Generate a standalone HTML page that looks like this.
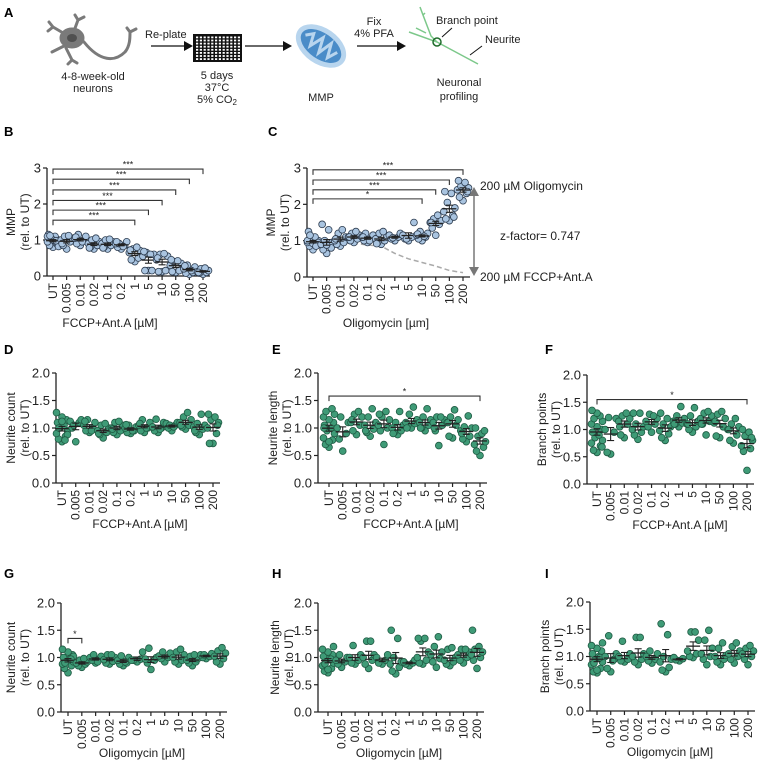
<!DOCTYPE html>
<html><head><meta charset="utf-8">
<style>
html,body{margin:0;padding:0;background:#fff;}
svg{display:block;font-family:"Liberation Sans",Arial,sans-serif;}
</style></head>
<body>
<svg id="fig" width="758" height="760" viewBox="0 0 758 760" xmlns="http://www.w3.org/2000/svg">
<g id="schematic">
  <text x="4" y="17" font-size="13" font-weight="bold">A</text>
  <g stroke="#7a7a7a" stroke-width="3" fill="none" stroke-linecap="round">
    <path d="M70 37 L53 27 M53 27 L49 22 M53 27 L48 31"/>
    <path d="M74 31 L78 20 M78 20 L75 15 M78 20 L84 17"/>
    <path d="M66 45 L52 52 M66 48 L72 60 M72 60 L68 64 M72 60 L77 63"/>
    <path d="M84 42 C100 62 115 62 125 52 C130 46 130 38 130 32 M130 32 L127 28 M130 32 L136 29"/>
    <ellipse cx="72" cy="38" rx="11" ry="9" fill="#7a7a7a"/>
    <ellipse cx="72" cy="38" rx="5" ry="4" fill="#505050" stroke="none"/>
  </g>
  <text x="93" y="80" font-size="11" text-anchor="middle" fill="#222">4-8-week-old</text>
  <text x="93" y="92" font-size="11" text-anchor="middle" fill="#222">neurons</text>
  <text x="145" y="38" font-size="11" fill="#222">Re-plate</text>
  <line x1="151" y1="46" x2="184" y2="46" stroke="#111" stroke-width="1.3"/>
  <polygon points="184,41 193,46 184,51" fill="#111"/>
  <rect x="193" y="34" width="49" height="28" fill="#111"/>
  <g id="plategrid"></g>
  <text x="217" y="79" font-size="11" text-anchor="middle" fill="#222">5 days</text>
  <text x="217" y="91" font-size="11" text-anchor="middle" fill="#222">37°C</text>
  <text x="217" y="103" font-size="11" text-anchor="middle" fill="#222">5% CO<tspan font-size="8" dy="2">2</tspan></text>
  <line x1="245" y1="46" x2="283" y2="46" stroke="#111" stroke-width="1.3"/>
  <polygon points="283,41 292,46 283,51" fill="#111"/>
  <g transform="rotate(35 321 46)">
    <ellipse cx="321" cy="46" rx="28" ry="18" fill="#b8d5ee"/>
    <ellipse cx="321" cy="46" rx="23" ry="13" fill="#4a8cc8"/>
    <path d="M302 46 L308 40 L312 52 L318 38 L323 53 L328 38 L333 52 L338 42" stroke="#b8d5ee" stroke-width="3" fill="none"/>
  </g>
  <text x="321" y="101" font-size="11" text-anchor="middle" fill="#222">MMP</text>
  <text x="374" y="25" font-size="11" text-anchor="middle" fill="#222">Fix</text>
  <text x="374" y="37" font-size="11" text-anchor="middle" fill="#222">4% PFA</text>
  <line x1="357" y1="46" x2="397" y2="46" stroke="#111" stroke-width="1.3"/>
  <polygon points="397,41 406,46 397,51" fill="#111"/>
  <g stroke="#7cc88a" stroke-width="1.5" fill="none">
    <path d="M409 32 L437 42 L478 64"/>
    <path d="M420 7 L423 15 L431 36 L437 42"/>
    <path d="M423 15 L425 13"/>
    <path d="M416 28 L426 33"/>
    <circle cx="437" cy="42" r="4" stroke="#1e6b2a" stroke-width="1.5"/>
  </g>
  <text x="436" y="24" font-size="11" fill="#222">Branch point</text>
  <line x1="452" y1="28" x2="442" y2="37" stroke="#111" stroke-width="1"/>
  <text x="485" y="43" font-size="11" fill="#222">Neurite</text>
  <line x1="482" y1="46" x2="470" y2="55" stroke="#111" stroke-width="1"/>
  <text x="459" y="86" font-size="11" text-anchor="middle" fill="#222">Neuronal</text>
  <text x="459" y="100" font-size="11" text-anchor="middle" fill="#222">profiling</text>
</g>
<g id="charts"></g>
</svg>
<script>
const categories = ["UT","0.005","0.01","0.02","0.1","0.2","1","5","10","50","100","200"];
const bValues = [
 [0.8,0.85,0.9,0.95,1.0,1.05,1.1,1.15,0.9,1.0,1.1,0.82,1.12,0.98],
 [0.75,0.85,0.95,1.0,1.05,1.1,1.12,0.9],
 [0.85,0.9,1.0,1.05,1.1,1.15,0.95,1.08],
 [0.75,0.8,0.85,0.9,0.95,1.0,1.05,0.78],
 [0.75,0.8,0.85,0.9,0.95,1.0,1.02,0.78],
 [0.75,0.8,0.85,0.9,0.95,0.9,0.82,0.95],
 [0.4,0.45,0.5,0.65,0.7,0.75,0.8,0.72],
 [0.15,0.15,0.15,0.55,0.6,0.65,0.6,0.68],
 [0.12,0.12,0.15,0.45,0.55,0.6,0.62,0.5],
 [0.1,0.12,0.15,0.3,0.35,0.4,0.42,0.45],
 [0.05,0.08,0.1,0.2,0.25,0.3,0.15,0.28],
 [0.05,0.08,0.1,0.12,0.15,0.2,0.22,0.1]];
const cValues = [
 [0.75,0.85,0.9,0.95,1.0,1.05,1.1,1.25,0.88,0.92,1.0,0.95,1.15,0.85],
 [0.65,0.75,0.85,0.9,0.95,1.0,1.3,1.45,0.8,0.88],
 [0.85,0.9,0.95,1.0,1.1,1.2,1.3,1.05],
 [0.95,1.0,1.05,1.1,1.15,1.2,1.25,1.1],
 [0.95,1.0,1.05,1.1,1.15,1.2,1.0,1.1],
 [0.9,0.95,1.0,1.05,1.1,1.2,1.25,0.92],
 [1.0,1.05,1.1,1.15,1.2,1.08],
 [1.0,1.05,1.1,1.15,1.5,1.05],
 [1.0,1.05,1.1,1.15,1.2,1.25,1.12,1.18],
 [1.15,1.35,1.45,1.5,1.55,1.6,1.7,1.5],
 [1.55,1.6,1.7,1.8,1.9,2.05,2.3,2.35,1.65],
 [2.1,2.2,2.3,2.4,2.45,2.5,2.6,2.65,2.35]];
const cDashed = [0.98,0.97,0.95,0.93,0.88,0.85,0.65,0.5,0.4,0.3,0.18,0.12];
const dValues = [
 [0.75,0.8,0.85,0.9,0.95,1.0,1.05,1.1,1.15,1.2,1.28,0.88,1.0,0.78,1.12],
 [0.75,1.0,1.1,1.12,1.15,1.05],
 [0.92,0.95,1.0,1.05,1.1,1.15,0.95,1.12],
 [0.82,0.88,0.92,0.95,1.0,1.05,1.08,0.9],
 [0.88,0.92,0.95,1.0,1.05,1.1,1.12,0.98],
 [0.9,0.92,0.95,1.0,1.02,1.05,0.95,1.06],
 [0.92,0.95,1.0,1.05,1.1,1.15,1.0,1.08],
 [0.92,0.95,1.0,1.02,1.1,1.16,0.98],
 [0.95,1.0,1.05,1.08,1.1,1.05,1.02],
 [0.98,1.02,1.05,1.1,1.15,1.2,1.28,1.05],
 [0.88,0.92,0.98,1.02,1.05,1.08,1.25,0.95],
 [0.72,0.72,0.9,1.0,1.1,1.15,1.2,1.25,1.05]];
const eValues = [
 [0.65,0.7,0.78,0.82,0.9,0.95,1.0,1.05,1.1,1.15,1.2,1.25,1.3,1.35,0.75,1.0],
 [0.58,0.8,0.9,1.0,1.1,1.2],
 [0.88,0.95,1.05,1.1,1.2,1.25,1.3,1.15],
 [0.85,0.92,0.98,1.05,1.1,1.2,1.35,0.95],
 [0.7,0.95,1.0,1.05,1.15,1.2,1.3,1.25],
 [0.88,0.92,0.95,1.0,1.05,1.1,1.3,0.9],
 [1.0,1.05,1.08,1.1,1.15,1.25,1.38,1.0],
 [0.95,1.0,1.05,1.1,1.15,1.2,1.35,1.0],
 [0.68,0.95,1.05,1.1,1.15,1.2,1.2,1.0],
 [0.82,0.85,1.05,1.1,1.15,1.2,1.33,1.1],
 [0.75,0.8,0.85,0.95,1.0,1.02,1.22,0.9],
 [0.5,0.58,0.65,0.7,0.75,0.85,0.9,1.0,0.95]];
const fValues = [
 [0.58,0.62,0.7,0.75,0.8,0.85,0.9,0.95,1.0,1.05,1.1,1.15,1.2,1.25,1.3,1.35,0.68],
 [0.55,0.58,0.95,1.0,1.2,1.22],
 [0.85,0.9,1.1,1.15,1.2,1.25,1.3,1.05],
 [0.82,0.9,0.95,1.0,1.05,1.1,1.3,1.3],
 [0.95,1.05,1.1,1.15,1.2,1.28,1.25],
 [0.8,0.85,0.92,0.98,1.05,1.1,1.2,1.3],
 [1.05,1.1,1.12,1.15,1.2,1.25,1.42,1.1],
 [0.95,1.0,1.05,1.1,1.15,1.25,1.4,1.1],
 [0.9,1.1,1.15,1.2,1.25,1.3,1.33,1.1],
 [0.85,0.88,1.05,1.12,1.2,1.28,1.33,1.15],
 [0.75,0.8,0.9,1.0,1.05,1.1,1.2,1.0],
 [0.25,0.6,0.65,0.7,0.8,0.88,0.95,1.0,0.85]];
const gValues = [
 [0.72,0.8,0.85,0.88,0.92,0.95,0.98,1.0,1.05,1.1,1.15,1.02,0.9,0.97],
 [0.82,0.85,0.88,0.9,0.92,0.95,0.98],
 [0.9,0.95,0.97,1.0,1.02,1.05,0.92],
 [0.88,0.9,0.93,0.96,1.0,1.05,1.05],
 [0.85,0.88,0.9,0.95,1.0,1.03,0.92],
 [0.92,0.95,0.97,0.95,1.1],
 [0.78,0.9,0.95,0.97,1.0,1.17],
 [0.92,0.98,1.0,1.03,1.08,1.1],
 [0.88,0.92,0.95,1.0,1.05,1.1,1.15],
 [0.85,0.9,0.92,0.95,0.98,1.02,1.05],
 [0.98,1.0,1.02,1.05,1.07,1.05],
 [0.88,0.92,0.98,1.02,1.08,1.12,1.18]];
const hValues = [
 [0.72,0.75,0.8,0.85,0.9,0.95,1.0,1.02,1.05,1.1,1.15,1.2,0.88,0.97,0.78],
 [0.82,0.88,0.92,0.95,1.0,1.05],
 [0.88,0.9,0.95,1.0,1.05,1.22],
 [0.8,0.88,0.95,1.0,1.05,1.3,1.3],
 [0.88,0.9,0.95,1.0,1.05],
 [0.7,0.75,0.82,0.88,0.92,1.0,1.35,1.5],
 [0.85,0.88,0.9,0.92,0.95],
 [0.88,0.9,0.95,1.0,1.1,1.3,1.35,1.35],
 [0.82,0.92,0.98,1.05,1.1,1.2,1.38],
 [0.85,0.88,0.92,0.95,1.0,1.15,1.18],
 [0.9,0.95,1.0,1.05,1.1,1.15,1.15],
 [0.8,0.95,1.0,1.05,1.1,1.15,1.2,1.5]];
const iValues = [
 [0.7,0.72,0.78,0.85,0.9,0.95,1.0,1.05,1.1,1.15,1.2,1.25,0.88,0.98,0.75],
 [0.72,0.78,0.95,1.0,1.05,1.38,0.92],
 [0.9,0.92,0.95,1.0,1.05,1.28],
 [0.85,0.9,0.95,1.0,1.05,1.35,1.35],
 [0.88,0.92,0.95,1.0,1.05,1.1],
 [0.72,0.75,0.8,0.9,0.95,1.0,1.4,1.6],
 [0.92,0.94,0.96,0.98],
 [0.98,1.0,1.05,1.1,1.3,1.45,1.45],
 [0.85,0.95,1.0,1.05,1.15,1.3,1.48],
 [0.85,0.9,0.95,1.0,1.02,1.15,1.25],
 [0.88,0.95,1.0,1.05,1.1,1.18,1.25],
 [0.85,0.95,1.0,1.05,1.1,1.15,1.2]];
const mmpTicks = [0,1,2,3];
const morphTicks = [0,0.5,1,1.5,2];
const bBrackets = [[6,1.55,"***"],[7,1.83,"***"],[8,2.1,"***"],[9,2.39,"***"],[10,2.69,"***"],[11,2.97,"***"]];
const cBrackets = [[8,2.15,"*"],[9,2.4,"***"],[10,2.67,"***"],[11,2.95,"***"]];
const eBrackets = [[11,1.58,"*"]];
const fBrackets = [[11,1.55,"*"]];
const gBrackets = [[1,1.35,"*"]];

const NS = "http://www.w3.org/2000/svg";
const root = document.getElementById("charts");
function mk(tag, attrs, parent, text){
  const e = document.createElementNS(NS, tag);
  for (const k in attrs) e.setAttribute(k, attrs[k]);
  if (text !== undefined) e.textContent = text;
  (parent||root).appendChild(e);
  return e;
}
const pg = document.getElementById("plategrid");
for (let r=0;r<8;r++) for (let c=0;c<12;c++){
  mk("rect",{x:196+c*3.8,y:36.5+r*3.1,width:2.2,height:1.8,fill:"#fff"},pg);
}

function panel(cfg){
  const g = mk("g",{});
  
  
  const ys = v => cfg.y0 - (v - 0) * (cfg.y0 - cfg.yTop) / cfg.ymax;
  const n = categories.length;
  const xs = i => cfg.x1 + i * (cfg.x2 - cfg.x1) / (n - 1);
  const lbl = mk("text",{x:cfg.lx,y:cfg.ly,"font-size":13,"font-weight":"bold"},g,cfg.label);
  
  
  const ya = mk("line",{x1:cfg.ax,y1:cfg.yTop,x2:cfg.ax,y2:cfg.y0,stroke:"#222","stroke-width":1.3},g);
  
  
  cfg.ticks.forEach(t=>{
    const y = ys(t);
    mk("line",{x1:cfg.ax-4,y1:y,x2:cfg.ax,y2:y,stroke:"#222","stroke-width":1.2},g);
    const tl = mk("text",{x:cfg.ax-6,y:y+4.5,"font-size":13,"text-anchor":"end",fill:"#222"},g,cfg.fmt(t));
    
    
  });
  const xa = mk("line",{x1:cfg.ax,y1:cfg.y0,x2:cfg.x2+7,y2:cfg.y0,stroke:"#222","stroke-width":1.3},g);
  
  
  categories.forEach((c,i)=>{
    const x = xs(i);
    mk("line",{x1:x,y1:cfg.y0,x2:x,y2:cfg.y0+4,stroke:"#222","stroke-width":1.2},g);
    const t = mk("text",{x:x+4,y:cfg.y0+7,"font-size":12,"text-anchor":"end",fill:"#222",transform:`rotate(-90 ${x+4} ${cfg.y0+7})`},g,c);
    
    
  });
  const xt = mk("text",{x:cfg.xtx,y:cfg.xty,"font-size":12,"text-anchor":"middle",fill:"#222"},g,cfg.xtitle);
  
  
  const ymid = (cfg.yTop+cfg.y0)/2;
  const yt = mk("text",{x:0,y:0,"font-size":12,"text-anchor":"middle",fill:"#222",transform:`translate(${cfg.ytx} ${ymid}) rotate(-90)`},g);
  
  
  mk("tspan",{x:0,dy:0},yt,cfg.ytitle[0]);
  mk("tspan",{x:0,dy:14},yt,cfg.ytitle[1]);
  if (cfg.dashed){
    const pts = cfg.dashed.map((v,i)=>`${xs(i)},${ys(v)}`).join(" ");
    const dl = mk("polyline",{points:pts,fill:"none",stroke:"#aaa","stroke-width":1.5,"stroke-dasharray":"5 3"},g);
    
    
  }
  cfg.data.forEach((arr,i)=>{
    const cx = xs(i);
    const offs = [0,-3.5,3.5,-5.5,5.5,-2,2,-4.5,4.5,0,-5.5,5.5,-3,3,0,-5,5];
    arr.forEach((v,j)=>{
      const p = mk("circle",{cx:cx+offs[j%offs.length],cy:ys(v),r:3.4,fill:cfg.fill,stroke:cfg.stroke,"stroke-width":0.8},g);
      
      
    });
    const m = arr.reduce((a,b)=>a+b,0)/arr.length;
    const sd = Math.sqrt(arr.reduce((a,b)=>a+(b-m)*(b-m),0)/(arr.length-1));
    const se = sd/Math.sqrt(arr.length);
    const ml = mk("line",{x1:cx-7,y1:ys(m),x2:cx+7,y2:ys(m),stroke:"#222","stroke-width":1.3},g);
    
    
    mk("line",{x1:cx,y1:ys(m-se),x2:cx,y2:ys(m+se),stroke:"#222","stroke-width":1.1},g);
    mk("line",{x1:cx-3.5,y1:ys(m-se),x2:cx+3.5,y2:ys(m-se),stroke:"#222","stroke-width":1.1},g);
    mk("line",{x1:cx-3.5,y1:ys(m+se),x2:cx+3.5,y2:ys(m+se),stroke:"#222","stroke-width":1.1},g);
  });
  (cfg.brackets||[]).forEach(b=>{
    const xa0 = xs(0), xb = xs(b[0]), y = ys(b[1]);
    const br = mk("path",{d:`M${xa0} ${y+5} L${xa0} ${y} L${xb} ${y} L${xb} ${y+5}`,fill:"none",stroke:"#333","stroke-width":1.1},g);
    
    
    const st = mk("text",{x:(xa0+xb)/2,y:y-1.5,"font-size":9,"text-anchor":"middle",fill:"#222"},g,b[2]);
    
    
  });
  return {g,xs,ys};
}
const blue = {fill:"#a9c4e0",stroke:"#2e3d50"};
const green = {fill:"#3f9b77",stroke:"#1f5a43"};
const f1 = t=>String(t), f2 = t=>t.toFixed(1);
panel(Object.assign({name:"panel-b-chart",label:"B",lx:4,ly:136,ax:47,x1:53,x2:203,y0:276,yTop:168,ymax:3,ticks:mmpTicks,fmt:f1,data:bValues,brackets:bBrackets,xtitle:"FCCP+Ant.A [µM]",xtx:110,xty:327,ytitle:["MMP","(rel. to UT)"],ytx:15},blue));
const pc = panel(Object.assign({name:"panel-c-chart",label:"C",lx:268,ly:136,ax:307,x1:313,x2:463,y0:277,yTop:168,ymax:3,ticks:mmpTicks,fmt:f1,data:cValues,brackets:cBrackets,dashed:cDashed,xtitle:"Oligomycin [µm]",xtx:386,xty:327,ytitle:["MMP","(rel. to UT)"],ytx:275},blue));
(function(){
  const g = pc.g;
  const a = mk("line",{x1:474,y1:195,x2:474,y2:268,stroke:"#777","stroke-width":1.5},g);
  
  
  mk("polygon",{points:"469,196 474,187 479,196",fill:"#777"},g);
  mk("polygon",{points:"469,267 474,276 479,267",fill:"#777"},g);
  const t1 = mk("text",{x:480,y:190,"font-size":12,fill:"#222"},g,"200 µM Oligomycin");
  
  
  const t2 = mk("text",{x:500,y:240,"font-size":12,fill:"#222"},g,"z-factor= 0.747");
  
  
  const t3 = mk("text",{x:480,y:281,"font-size":12,fill:"#222"},g,"200 µM FCCP+Ant.A");
  
  
})();
panel(Object.assign({name:"panel-d-chart",label:"D",lx:4,ly:354,ax:56,x1:62,x2:213,y0:483,yTop:373,ymax:2,ticks:morphTicks,fmt:f2,data:dValues,xtitle:"FCCP+Ant.A [µM]",xtx:140,xty:528,ytitle:["Neurite count","(rel. to UT)"],ytx:15},green));
panel(Object.assign({name:"panel-e-chart",label:"E",lx:272,ly:354,ax:318,x1:329,x2:480,y0:483,yTop:373,ymax:2,ticks:morphTicks,fmt:f2,data:eValues,brackets:eBrackets,xtitle:"FCCP+Ant.A [µM]",xtx:411,xty:528,ytitle:["Neurite length","(rel. to UT)"],ytx:277},green));
panel(Object.assign({name:"panel-f-chart",label:"F",lx:545,ly:354,ax:587,x1:597,x2:747,y0:484,yTop:375,ymax:2,ticks:morphTicks,fmt:f2,data:fValues,brackets:fBrackets,xtitle:"FCCP+Ant.A [µM]",xtx:680,xty:529,ytitle:["Branch points","(rel. to UT)"],ytx:546},green));
panel(Object.assign({name:"panel-g-chart",label:"G",lx:4,ly:578,ax:61,x1:68,x2:220,y0:712,yTop:603,ymax:2,ticks:morphTicks,fmt:f2,data:gValues,brackets:gBrackets,xtitle:"Oligomycin [µM]",xtx:142,xty:757,ytitle:["Neurite count","(rel. to UT)"],ytx:15},green));
panel(Object.assign({name:"panel-h-chart",label:"H",lx:272,ly:578,ax:318,x1:328,x2:477,y0:712,yTop:603,ymax:2,ticks:morphTicks,fmt:f2,data:hValues,xtitle:"Oligomycin [µM]",xtx:399,xty:757,ytitle:["Neurite length","(rel. to UT)"],ytx:279},green));
panel(Object.assign({name:"panel-i-chart",label:"I",lx:545,ly:578,ax:590,x1:597,x2:748,y0:711,yTop:602,ymax:2,ticks:morphTicks,fmt:f2,data:iValues,xtitle:"Oligomycin [µM]",xtx:670,xty:756,ytitle:["Branch points","(rel. to UT)"],ytx:549},green));
</script>
</body></html>
